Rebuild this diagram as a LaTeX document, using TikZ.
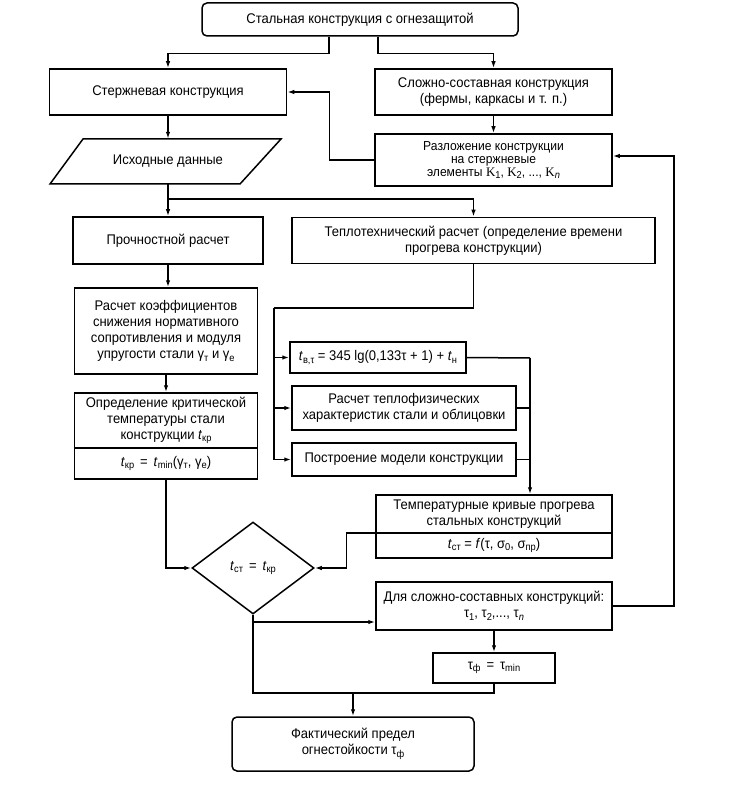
\documentclass[tikz,border=0pt]{standalone}
\usepackage{fontspec}
\setmainfont[FakeStretch=0.93]{Liberation Sans}
\newfontfamily\kfont{Liberation Serif}
\usetikzlibrary{arrows.meta,shapes.geometric,calc}
\newcommand{\sbs}[1]{\raisebox{-0.35ex}{\fontsize{10}{10}\selectfont #1}}
\newcommand{\ti}{\textit{t}}
\tikzset{
 blk/.style={draw, line width=1.5pt, rectangle},
 rblk/.style={blk, rounded corners=5pt},
 ln/.style={line width=1.5pt},
 arr/.style={ln, -{Latex[length=7pt,width=4.5pt]}},
 small/.style={font=\fontsize{13}{13}\selectfont},
}
\begin{document}
\begin{tikzpicture}[x=1pt,y=-1pt,
  every node/.style={font=\fontsize{14}{16}\selectfont, align=center, inner sep=0pt}]
\useasboundingbox (0,0) rectangle (749,786);

% nodes
\node[rblk, minimum width=316, minimum height=33] (top) at (360,19.5) {Стальная конструкция с огнезащитой};
\node[blk, minimum width=237, minimum height=46] (rod) at (168,92) {Стержневая конструкция};
\node[blk, minimum width=237, minimum height=46] (comp) at (493.5,92) {Сложно-составная конструкция\\(фермы, каркасы и т. п.)};
\draw[ln] (83,139) -- (281,139) -- (240,184) -- (50,184) -- cycle;
\node[minimum width=150, minimum height=45] (para) at (168,161.5) {Исходные данные};
\node[blk, small, minimum width=237, minimum height=52] (decomp) at (493.5,160) {Разложение конструкции\\на стержневые\\элементы {\kfont K}\sbs{1}, {\kfont K}\sbs{2}, ..., {\kfont K}\sbs{\textit{n}}};
\node[blk, minimum width=190, minimum height=47] (strength) at (168,240.5) {Прочностной расчет};
\node[blk, minimum width=363, minimum height=46] (thermal) at (473.5,240.5) {Теплотехнический расчет (определение времени\\прогрева конструкции)};
\node[blk, minimum width=183, minimum height=86] (coef) at (166,331) {Расчет коэффициентов\\снижения нормативного\\сопротивления и модуля\\упругости стали γ\sbs{т} и γ\sbs{е}};
\node[blk, minimum width=183, minimum height=86] (crit) at (166,436) {};
\node (crit1) at (166,420.5) {Определение критической\\температуры стали\\конструкции \ti\sbs{кр}};
\node (crit2) at (166,463.5) {\ti\sbs{кр} \,=\, \ti\sbs{min}(γ\sbs{т}, γ\sbs{е})};
\draw[ln] (crit.west |- 0,448) -- (crit.east |- 0,448);
\node[blk, minimum width=176, minimum height=31] (tform) at (378,357.5) {\ti\sbs{в,τ} = 345 lg(0,133τ + 1) + \ti\sbs{н}};
\node[blk, minimum width=224, minimum height=44] (phys) at (404,408) {Расчет теплофизических\\характеристик стали и облицовки};
\node[blk, minimum width=224, minimum height=33] (model) at (404,459.5) {Построение модели конструкции};
\node[blk, minimum width=236, minimum height=63] (curves) at (494,526.5) {};
\node (curves1) at (494,514) {Температурные кривые прогрева\\стальных конструкций};
\node (curves2) at (494,545.5) {\ti\sbs{ст} = \textit{f}(τ, σ\sbs{0}, σ\sbs{пр})};
\draw[ln] (curves.west |- 0,533) -- (curves.east |- 0,533);
\node[blk, diamond, minimum width=122, minimum height=92, aspect=1.33] (dia) at (253,568) {\ti\sbs{ст} \,=\, \ti\sbs{кр}};
\node[blk, minimum width=236, minimum height=48] (multi) at (494,606) {Для сложно-составных конструкций:\\τ\sbs{1}, τ\sbs{2},..., τ\sbs{\textit{n}}};
\node[blk, minimum width=122, minimum height=30] (tau) at (494,668) {τ\sbs{ф} \,=\, τ\sbs{min}};
\node[rblk, minimum width=242, minimum height=54] (final) at (353,744) {Фактический предел\\огнестойкости τ\sbs{ф}};

% coordinates
\coordinate (split) at (168,199);
\coordinate (tl) at (274,308);
\coordinate (rc) at (530,358);
\coordinate (b1) at (253,622);
\coordinate (jn) at (253,693);

% connectors
\draw[arr] ([xshift=-31]top.south) -- ++(0,17) -| (rod.north);
\draw[arr] ([xshift=18]top.south) -- ++(0,17) -| (comp.north);
\draw[arr] (comp.south) -- (decomp.north);
\draw[arr] (decomp.west) -- ++(-45,0) |- (rod.east);
\draw[arr] (rod.south) -- (para.north);
\draw[ln] (para.south) -- (split);
\draw[arr] (split) -- (strength.north);
\draw[arr] (split) -| (thermal.north);
\draw[arr] (strength.south) -- (strength.south |- coef.north);
\draw[arr] (coef.south) -- (crit.north);
\draw[ln] (thermal.south) |- (tl);
\draw[arr] (tl) |- (model.west);
\draw[arr] (tl |- tform.west) -- (tform.west);
\draw[arr] (tl |- phys.west) -- (phys.west);
\draw[ln] (tform.east) -- (rc);
\draw[ln] (phys.east) -- (phys.east -| rc);
\draw[ln] (model.east) -- (model.east -| rc);
\draw[arr] (rc) -- (rc |- curves.north);
\draw[arr] (curves.west |- 0,533) -- ++(-29,0) |- (dia.east);
\draw[arr] (crit.south) |- (dia.west);
\draw[ln] (dia.south) -- (jn) -| (tau.south);
\draw[arr] (b1) -- (b1 -| multi.west);
\draw[arr] (multi.south) -- (tau.north);
\draw[arr] (final.north |- jn) -- (final.north);
\draw[arr] (multi.east) -- ++(61,0) |- ([yshift=4]decomp.east);
\end{tikzpicture}
\end{document}
